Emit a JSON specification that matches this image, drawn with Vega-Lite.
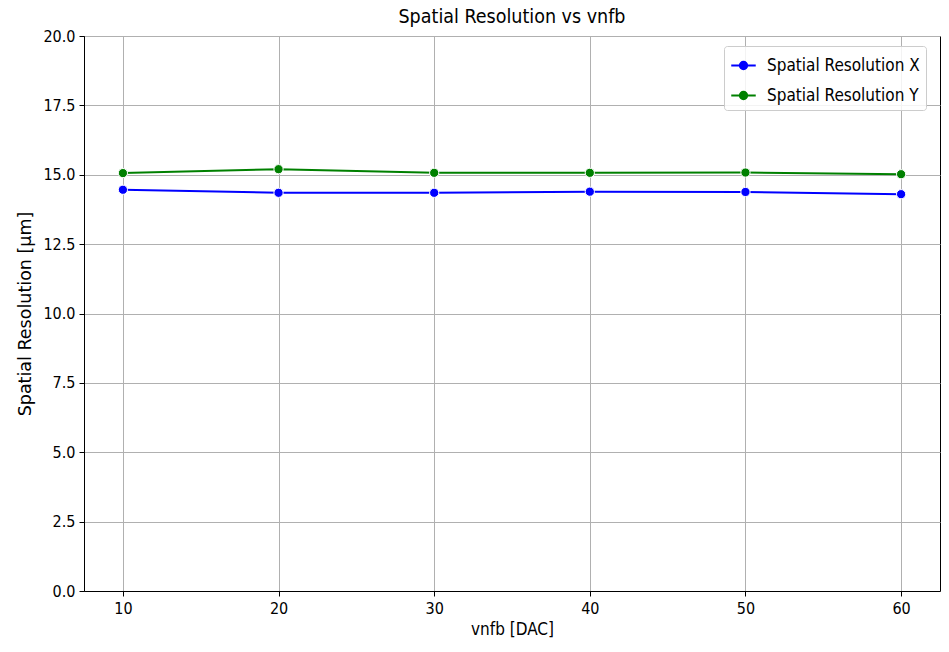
{
  "$schema": "https://vega.github.io/schema/vega-lite/v6.json",
  "width": 856,
  "height": 555,
  "autosize": {"type": "none"},
  "padding": {"left": 84, "top": 36, "right": 9, "bottom": 61},
  "background": "white",
  "title": {"text": "Spatial Resolution vs vnfb", "font": "DejaVu Sans Condensed", "fontSize": 19.5, "fontWeight": "normal", "color": "black", "offset": 1},
  "config": {
    "view": {"stroke": "black", "strokeWidth": 1},
    "axis": {"labelFont": "DejaVu Sans Condensed", "titleFont": "DejaVu Sans", "labelFontSize": 16, "titleFontSize": 16, "titleFontWeight": "normal", "labelColor": "black", "titleColor": "black", "gridColor": "#b0b0b0", "gridWidth": 1, "domainColor": "black", "tickColor": "black", "tickSize": 5, "labelPadding": 4}
  },
  "data": {"values": [
    {"vnfb": 10, "series": "Spatial Resolution X", "value": 14.46},
    {"vnfb": 20, "series": "Spatial Resolution X", "value": 14.35},
    {"vnfb": 30, "series": "Spatial Resolution X", "value": 14.35},
    {"vnfb": 40, "series": "Spatial Resolution X", "value": 14.39},
    {"vnfb": 50, "series": "Spatial Resolution X", "value": 14.38},
    {"vnfb": 60, "series": "Spatial Resolution X", "value": 14.30},
    {"vnfb": 10, "series": "Spatial Resolution Y", "value": 15.06},
    {"vnfb": 20, "series": "Spatial Resolution Y", "value": 15.20},
    {"vnfb": 30, "series": "Spatial Resolution Y", "value": 15.07},
    {"vnfb": 40, "series": "Spatial Resolution Y", "value": 15.07},
    {"vnfb": 50, "series": "Spatial Resolution Y", "value": 15.08},
    {"vnfb": 60, "series": "Spatial Resolution Y", "value": 15.02}
  ]},
  "encoding": {
    "x": {"field": "vnfb", "type": "quantitative", "scale": {"domain": [7.5, 62.5], "nice": false, "zero": false}, "axis": {"values": [10, 20, 30, 40, 50, 60], "title": "vnfb [DAC]", "titleFont": "DejaVu Sans Condensed", "titleFontSize": 17, "titlePadding": 5}},
    "y": {"field": "value", "type": "quantitative", "scale": {"domain": [0, 20], "nice": false}, "axis": {"values": [0, 2.5, 5, 7.5, 10, 12.5, 15, 17.5, 20], "format": ".1f", "title": "Spatial Resolution [µm]", "titleFontSize": 17.5, "titlePadding": 8}},
    "color": {"field": "series", "type": "nominal", "scale": {"domain": ["Spatial Resolution X", "Spatial Resolution Y"], "range": ["#0000ff", "#008000"]},
      "legend": {"title": null, "orient": "none", "legendX": 640, "legendY": 10, "labelFont": "DejaVu Sans Condensed", "labelFontSize": 17, "labelColor": "black", "symbolType": "M-1,0H-0.3M0.3,0H1M-0.3,0A0.3,0.3 0 1,1 0.3,0A0.3,0.3 0 1,1 -0.3,0Z", "symbolSize": 600, "symbolStrokeWidth": 2, "rowPadding": 8, "labelOffset": 10, "padding": 6, "strokeColor": "#cccccc", "fillColor": "rgba(255,255,255,0.85)", "cornerRadius": 3}}
  },
  "layer": [
    {"mark": {"type": "line", "strokeWidth": 2}},
    {"mark": {"type": "point", "shape": "circle", "filled": true, "size": 85, "stroke": "white", "strokeWidth": 1, "opacity": 1}}
  ]
}
